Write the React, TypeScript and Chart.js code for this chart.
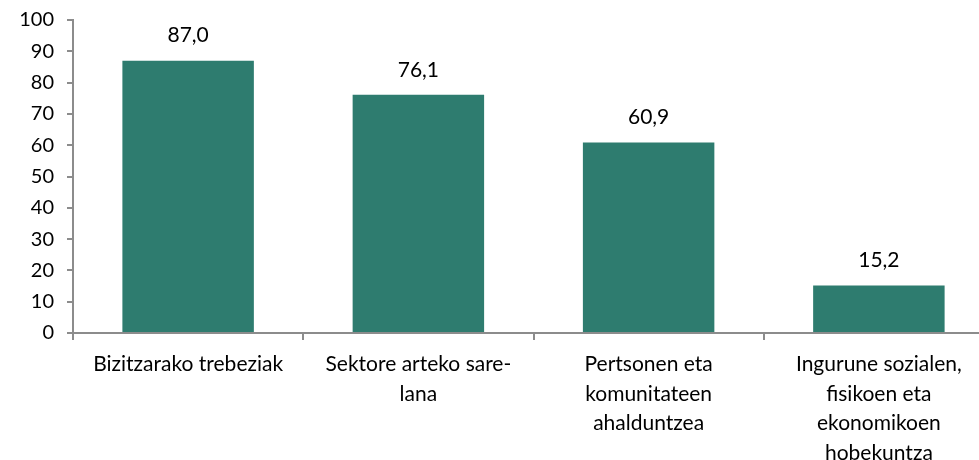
import React, { useEffect, useRef } from "react";
import { Chart, registerables } from "chart.js";

Chart.register(...registerables);

const categories: (string | string[])[] = [
  "Bizitzarako trebeziak",
  ["Sektore arteko sare-", "lana"],
  ["Pertsonen eta", "komunitateen", "ahalduntzea"],
  ["Ingurune sozialen,", "fisikoen eta", "ekonomikoen", "hobekuntza"],
];
const values: number[] = [87.0, 76.1, 60.9, 15.2];
const yMin = 0;
const yMax = 100;
const yStep = 10;

const FONT = "Lato, 'Noto Sans', sans-serif";
const BAR = "#2e7c6f";
const AXIS = "#8c8c8c";

const valueLabels = {
  id: "valueLabels",
  afterDatasetsDraw(chart: any) {
    const ctx = chart.ctx;
    const meta = chart.getDatasetMeta(0);
    ctx.save();
    ctx.font = `21px ${FONT}`;
    ctx.fillStyle = "#000";
    ctx.textAlign = "center";
    ctx.textBaseline = "middle";
    meta.data.forEach((bar: any, i: number) => {
      const v = values[i];
      ctx.fillText(v.toFixed(1).replace(".", ","), bar.x, bar.y - 25);
    });
    ctx.restore();
  },
};

export default function App() {
  const ref = useRef<HTMLCanvasElement>(null);
  useEffect(() => {
    const chart = new Chart(ref.current!, {
      type: "bar",
      data: {
        labels: categories,
        datasets: [
          {
            data: values,
            backgroundColor: BAR,
            barPercentage: 0.571,
            categoryPercentage: 1,
          },
        ],
      },
      options: {
        animation: false,
        responsive: false,
        layout: { padding: { top: 20, right: 6, left: 0, bottom: 0 } },
        plugins: { legend: { display: false }, tooltip: { enabled: false } },
        scales: {
          x: {
            offset: true,
            grid: {
              offset: true,
              drawOnChartArea: false,
              drawTicks: true,
              tickLength: 7,
              color: AXIS,
              lineWidth: 2,
            },
            border: { color: AXIS, width: 2 },
            ticks: {
              color: "#000",
              font: { family: FONT, size: 21, lineHeight: 1.4 },
              padding: 10,
              maxRotation: 0,
              autoSkip: false,
            },
            afterFit(scale: any) {
              scale.height = 127;
              scale.paddingLeft = 0;
              scale.paddingRight = 0;
            },
          },
          y: {
            min: yMin,
            max: yMax,
            ticks: {
              stepSize: yStep,
              color: "#000",
              font: { family: FONT, size: 20 },
              padding: 13,
            },
            grid: {
              drawOnChartArea: false,
              drawTicks: true,
              tickLength: 6,
              color: AXIS,
              lineWidth: 2,
            },
            border: { color: AXIS, width: 2 },
            afterFit(scale: any) {
              scale.width = 73;
              scale.paddingTop = 0;
              scale.paddingBottom = 0;
            },
          },
        },
      },
      plugins: [valueLabels],
    });
    return () => chart.destroy();
  }, []);
  return (
    <div
      style={{
        position: "absolute",
        left: 0,
        top: 0,
        width: 979,
        height: 460,
        overflow: "hidden",
        background: "#fff",
      }}
    >
      <canvas ref={ref} width={1000} height={460} style={{ display: "block" }} />
    </div>
  );
}
